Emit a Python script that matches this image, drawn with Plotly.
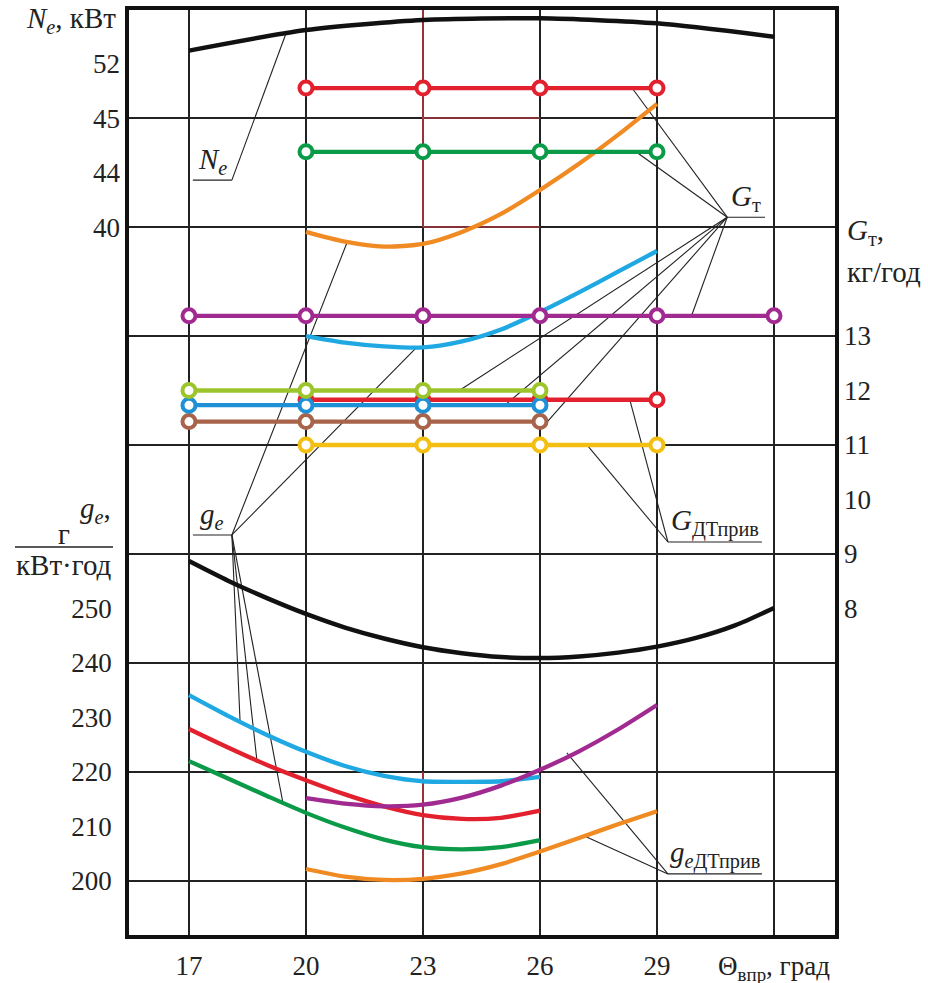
import plotly.graph_objects as go

FONT = "'Liberation Serif', 'DejaVu Serif', serif"

# ---------------- axes / ticks ----------------
theta_ticks = [17, 20, 23, 26, 29, 32]
theta_ticktext = ["17", "20", "23", "26", "29", "Θ<sub>впр</sub>, град"]
theta_range = [15.462, 33.564]

ge_range = [190.09, 359.82]            # g_e, г/(кВт·год)
ge_tickvals = [200, 210, 220, 230, 240, 250]
ge_grid = [200, 220, 240, 260, 280, 300, 320, 340]

ne_range = [-11.96, 55.93]             # N_e, кВт
ne_tickvals = [52, 48, 44, 40]
ne_ticktext = ["52", "45", "44", "40"]

gt_range = [2.009, 18.982]             # G_т, кг/год
gt_tickvals = [13, 12, 11, 10, 9, 8]

# ---------------- data ----------------
# N_e curve
ne_theta = [17, 20, 23, 26, 29, 32]
ne_vals = [52.95, 54.46, 55.19, 55.32, 54.95, 53.97]

# G_т lines with circles (right axis)
gt_red_up_theta = [20, 23, 26, 29]
gt_red_up = [17.55, 17.55, 17.55, 17.55]
gt_green_theta = [20, 23, 26, 29]
gt_green = [16.38, 16.38, 16.38, 16.38]
gt_magenta_theta = [17, 20, 23, 26, 29, 32]
gt_magenta = [13.37, 13.37, 13.37, 13.37, 13.37, 13.37]
gt_lime_theta = [17, 20, 23, 26]
gt_lime = [12.0, 12.0, 12.0, 12.0]
gt_red_theta = [20, 23, 26, 29]
gt_red = [11.83, 11.83, 11.83, 11.83]
gt_blue_theta = [17, 20, 23, 26]
gt_blue = [11.73, 11.73, 11.73, 11.73]
gt_brown_theta = [17, 20, 23, 26]
gt_brown = [11.43, 11.43, 11.43, 11.43]
gt_yellow_theta = [20, 23, 26, 29]
gt_yellow = [11.0, 11.0, 11.0, 11.0]

# upper g_e curves
th_20_29 = [20, 21, 22, 23, 24, 25, 26, 27, 28, 29]
th_17_26 = [17, 18, 19, 20, 21, 22, 23, 24, 25, 26]
up_orange = [319.1, 317.3, 316.4, 316.9, 319.1, 322.4, 326.8, 331.6, 336.9, 342.6]
up_cyan = [300.0, 298.8, 298.1, 297.9, 299.0, 301.2, 304.4, 308.0, 311.8, 315.6]

# lower g_e curves
ge_black_theta = [17, 18, 19, 20, 21, 22, 23, 24, 25, 26, 27, 28, 29, 30, 31, 32]
ge_black = [258.7, 255.1, 251.9, 249.0, 246.5, 244.5, 242.9, 241.8, 241.1, 240.9,
            241.2, 241.9, 243.0, 244.6, 246.9, 250.1]
ge_blue = [234.1, 230.3, 226.8, 223.7, 221.1, 219.3, 218.3, 218.2, 218.3, 219.1]
ge_red = [227.9, 224.5, 221.3, 218.5, 215.9, 213.7, 212.1, 211.4, 211.6, 212.9]
ge_green = [222.0, 218.8, 215.6, 212.5, 209.8, 207.6, 206.2, 205.8, 206.2, 207.5]
ge_magenta = [215.2, 214.2, 213.7, 214.0, 215.3, 217.5, 220.4, 223.8, 227.8, 232.3]
ge_orange = [202.2, 200.8, 200.2, 200.4, 201.4, 203.1, 205.4, 207.9, 210.4, 212.8]

# thin red construction lines (theta, g_e)
red_aux_x = [23, 23, None, 23, 26, None, 23, 26, None, 23, 23]
red_aux_y = [320, 359.8, None, 340, 340, None, 320, 320, None, 220, 200]

# callouts: label, underline x0, x1, y, vertex, targets
callouts = [
    dict(text="<i>N<sub>e</sub></i>", u=(17.10, 18.10, 328.6), v=(18.10, 328.6),
         t=[(19.51, 355.96)]),
    dict(text="<i>G</i><sub>т</sub>", u=(30.80, 31.77, 321.8), v=(30.80, 321.8),
         t=[(28.36, 345.5), (28.46, 333.8), (29.90, 304.0), (23.95, 290.1),
            (25.10, 287.3), (26.18, 284.2)]),
    dict(text="<i>g<sub>e</sub></i>", u=(17.10, 18.10, 263.5), v=(18.10, 263.5),
         t=[(21.05, 317.1), (22.85, 298.0), (18.31, 229.2), (18.74, 222.2),
            (19.41, 214.3)]),
    dict(text="<i>G</i><sub>ДТприв</sub>", u=(29.28, 31.69, 262.2), v=(29.28, 262.2),
         t=[(27.23, 279.8), (28.31, 288.1)]),
    dict(text="<i>g<sub>e</sub></i><sub>ДТприв</sub>", u=(29.28, 31.69, 201.3),
         v=(29.28, 201.3), t=[(26.69, 223.5), (27.18, 208.1)]),
]

# ---------------- colours ----------------
C_RED = "#E3202E"
C_GREEN = "#0A9A48"
C_ORANGE = "#F08A22"
C_CYAN = "#1FA8E2"
C_BLUE = "#1E90D6"
C_MAGENTA = "#A12A91"
C_LIME = "#9CC42B"
C_BROWN = "#A8634B"
C_YELLOW = "#F2BF12"
C_BLACK = "#111111"

fig = go.Figure()


def curve(x, y, color, yaxis="y", width=4.3):
    fig.add_trace(go.Scatter(x=x, y=y, mode="lines", yaxis=yaxis,
                             line=dict(color=color, width=width, shape="spline", smoothing=0.7),
                             showlegend=False, hoverinfo="skip"))


def circ_line(x, y, color):
    fig.add_trace(go.Scatter(x=x, y=y, mode="lines+markers", yaxis="y3",
                             line=dict(color=color, width=4.3),
                             marker=dict(symbol="circle", size=13, color="white",
                                         line=dict(color=color, width=4)),
                             showlegend=False, hoverinfo="skip"))


# construction lines
fig.add_trace(go.Scatter(x=red_aux_x, y=red_aux_y, mode="lines",
                         line=dict(color="#E8404A", width=1.2),
                         showlegend=False, hoverinfo="skip"))

# leader lines
lx, ly = [], []
for c in callouts:
    x0, x1, yy = c["u"]
    lx += [x0, x1, None]
    ly += [yy, yy, None]
    for tx, ty in c["t"]:
        lx += [c["v"][0], tx, None]
        ly += [c["v"][1], ty, None]
fig.add_trace(go.Scatter(x=lx, y=ly, mode="lines", line=dict(color="#222", width=1.1),
                         showlegend=False, hoverinfo="skip"))

# g_e curves
curve(th_20_29, up_orange, C_ORANGE)
curve(th_20_29, up_cyan, C_CYAN)
curve(ge_black_theta, ge_black, C_BLACK, width=4.5)
curve(th_17_26, ge_blue, C_CYAN)
curve(th_17_26, ge_red, C_RED)
curve(th_17_26, ge_green, C_GREEN)
curve(th_20_29, ge_magenta, C_MAGENTA)
curve(th_20_29, ge_orange, C_ORANGE)

# N_e
curve(ne_theta, ne_vals, C_BLACK, yaxis="y2", width=4.5)

# G_т
circ_line(gt_red_up_theta, gt_red_up, C_RED)
circ_line(gt_green_theta, gt_green, C_GREEN)
circ_line(gt_magenta_theta, gt_magenta, C_MAGENTA)
circ_line(gt_yellow_theta, gt_yellow, C_YELLOW)
circ_line(gt_brown_theta, gt_brown, C_BROWN)
circ_line(gt_red_theta, gt_red, C_RED)
circ_line(gt_blue_theta, gt_blue, C_BLUE)
circ_line(gt_lime_theta, gt_lime, C_LIME)

# callout labels
for c in callouts:
    x0, x1, yy = c["u"]
    fig.add_annotation(x=(x0 + x1) / 2, y=yy, xref="x", yref="y", text=c["text"],
                       showarrow=False, yanchor="bottom", yshift=-1,
                       font=dict(family=FONT, size=29, color="#222"))

tickfont = dict(family=FONT, size=27, color="#222")

fig.update_layout(
    width=928, height=983, autosize=False,
    margin=dict(l=129, r=93, t=10, b=48, autoexpand=False),
    paper_bgcolor="white", plot_bgcolor="white",
    font=dict(family=FONT),
    xaxis=dict(range=theta_range, tickvals=theta_ticks, ticktext=theta_ticktext,
               showgrid=True, gridcolor="#222", gridwidth=1.6, zeroline=False,
               showline=True, linecolor="#111", linewidth=3.5, mirror=True,
               ticks="", tickfont=tickfont, ticklabelstandoff=4, automargin=False),
    yaxis=dict(range=ge_range, tickvals=ge_tickvals, showgrid=False, zeroline=False,
               minor=dict(tickvals=ge_grid, showgrid=True, gridcolor="#222",
                          gridwidth=1.6, ticks=""),
               showline=True, linecolor="#111", linewidth=3.5, mirror=True,
               ticks="", tickfont=tickfont, ticklabelstandoff=8, automargin=False),
    yaxis2=dict(range=ne_range, overlaying="y", side="left", anchor="x",
                tickvals=ne_tickvals, ticktext=ne_ticktext, showgrid=False,
                zeroline=False, showline=False, ticks="", tickfont=tickfont,
                ticklabelstandoff=8, automargin=False),
    yaxis3=dict(range=gt_range, overlaying="y", side="right", anchor="x",
                tickvals=gt_tickvals, showgrid=False, zeroline=False,
                showline=False, ticks="", tickfont=tickfont, ticklabelstandoff=8,
                automargin=False),
)

# axis titles
afont = dict(family=FONT, size=29, color="#222")
fig.add_annotation(xref="paper", yref="paper", x=-0.0156, y=0.989, xanchor="right",
                   yanchor="middle", showarrow=False,
                   text="<i>N<sub>e</sub></i>, кВт", font=afont)
fig.add_annotation(xref="paper", yref="paper", x=-0.0227, y=0.4595, xanchor="right",
                   yanchor="middle", showarrow=False,
                   text="<i>g<sub>e</sub></i>,", font=afont)
fig.add_annotation(xref="paper", yref="paper", x=-0.092, y=0.4335, xanchor="center",
                   yanchor="middle", showarrow=False, text="г", font=afont)
fig.add_annotation(xref="paper", yref="paper", x=-0.092, y=0.400, xanchor="center",
                   yanchor="middle", showarrow=False, text="кВт·год", font=afont)
fig.add_shape(type="line", xref="paper", yref="paper", x0=-0.1615, x1=-0.0227,
              y0=0.4195, y1=0.4195, line=dict(color="#222", width=1.5))
fig.add_annotation(xref="paper", yref="paper", x=1.0142, y=0.760, xanchor="left",
                   yanchor="middle", showarrow=False,
                   text="<i>G</i><sub>т</sub>,", font=afont)
fig.add_annotation(xref="paper", yref="paper", x=1.0142, y=0.7168, xanchor="left",
                   yanchor="middle", showarrow=False, text="кг/год", font=afont)

fig.write_html("out.html")
